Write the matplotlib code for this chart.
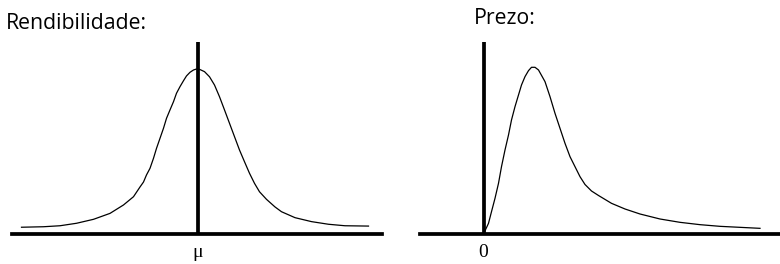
import matplotlib
matplotlib.use("Agg")
import matplotlib.pyplot as plt

# left panel: returns density, x relative to mu, height relative to peak
ret_x = [-3.53, -3.09, -2.76, -2.43, -2.09, -1.76, -1.49, -1.29, -1.16, -1.09,
         -1.03, -0.96, -0.89, -0.83, -0.76, -0.69, -0.63, -0.56, -0.49, -0.43,
         -0.36, -0.29, -0.23, -0.16, -0.09, -0.03, 0.03, 0.13, 0.23, 0.33,
         0.43, 0.53, 0.63, 0.73, 0.83, 0.93, 1.03, 1.13, 1.23, 1.37,
         1.54, 1.67, 1.94, 2.27, 2.61, 2.94, 3.41]
ret_y = [0.041, 0.044, 0.050, 0.065, 0.089, 0.125, 0.176, 0.226, 0.285, 0.315,
         0.358, 0.398, 0.459, 0.519, 0.580, 0.641, 0.701, 0.752, 0.802, 0.853,
         0.893, 0.929, 0.958, 0.980, 0.994, 1.000, 0.998, 0.984, 0.953, 0.903,
         0.832, 0.752, 0.671, 0.590, 0.509, 0.438, 0.368, 0.307, 0.256, 0.210,
         0.164, 0.135, 0.099, 0.075, 0.059, 0.050, 0.048]

# right panel: price density (skewed), x from 0
price_x = [0.0, 0.10, 0.16, 0.23, 0.30, 0.36, 0.43, 0.50, 0.56, 0.63,
           0.70, 0.76, 0.83, 0.90, 0.96, 1.03, 1.10, 1.23, 1.33, 1.43,
           1.53, 1.63, 1.73, 1.83, 1.93, 2.03, 2.16, 2.30, 2.56, 2.83,
           3.13, 3.53, 3.93, 4.33, 4.73, 5.13, 5.53]
price_y = [0.0, 0.064, 0.134, 0.214, 0.304, 0.404, 0.504, 0.594, 0.684, 0.764,
           0.834, 0.894, 0.944, 0.980, 1.000, 1.000, 0.984, 0.914, 0.824, 0.724,
           0.634, 0.544, 0.464, 0.404, 0.344, 0.297, 0.258, 0.231, 0.184, 0.150,
           0.120, 0.090, 0.070, 0.056, 0.046, 0.040, 0.034]

titles = ["Rendibilidade:", "Prezo:"]
tick_labels = ["μ", "0"]

W, H = 780, 264
fig = plt.figure(figsize=(W / 100, H / 100), dpi=100)

# axes rectangles from the pixel layout of the reference
ax1 = fig.add_axes([12 / W, 30 / H, 370 / W, 192 / H])
ax2 = fig.add_axes([420 / W, 30 / H, 360 / W, 192 / H])

ax1.plot(ret_x, ret_y, color="black", lw=0.9)
ax1.set_xlim(-3.72, 3.68)
ax1.set_ylim(0, 192 / 165)

ax2.plot(price_x, price_y, color="black", lw=0.9)
ax2.set_xlim(-1.27, 5.93)
ax2.set_ylim(0, 192 / 166.7)

for ax, lab in zip([ax1, ax2], tick_labels):
    for s in ["top", "right", "left"]:
        ax.spines[s].set_visible(False)
    ax.spines["bottom"].set_linewidth(2.7)
    ax.axvline(0, color="black", lw=2.7)
    ax.set_yticks([])
    ax.set_xticks([0], [lab])
    ax.tick_params(axis="x", length=0, pad=7.5, labelsize=14)
    for t in ax.get_xticklabels():
        t.set_fontfamily("Liberation Serif")
    ax.patch.set_alpha(0)

fig.text(6 / W, 1 - 28.7 / H, titles[0], fontsize=15.3, family="Open Sans", va="baseline")
fig.text(474 / W, 1 - 24 / H, titles[1], fontsize=15.3, family="Open Sans", va="baseline")

fig.savefig("out.png", dpi=100)
